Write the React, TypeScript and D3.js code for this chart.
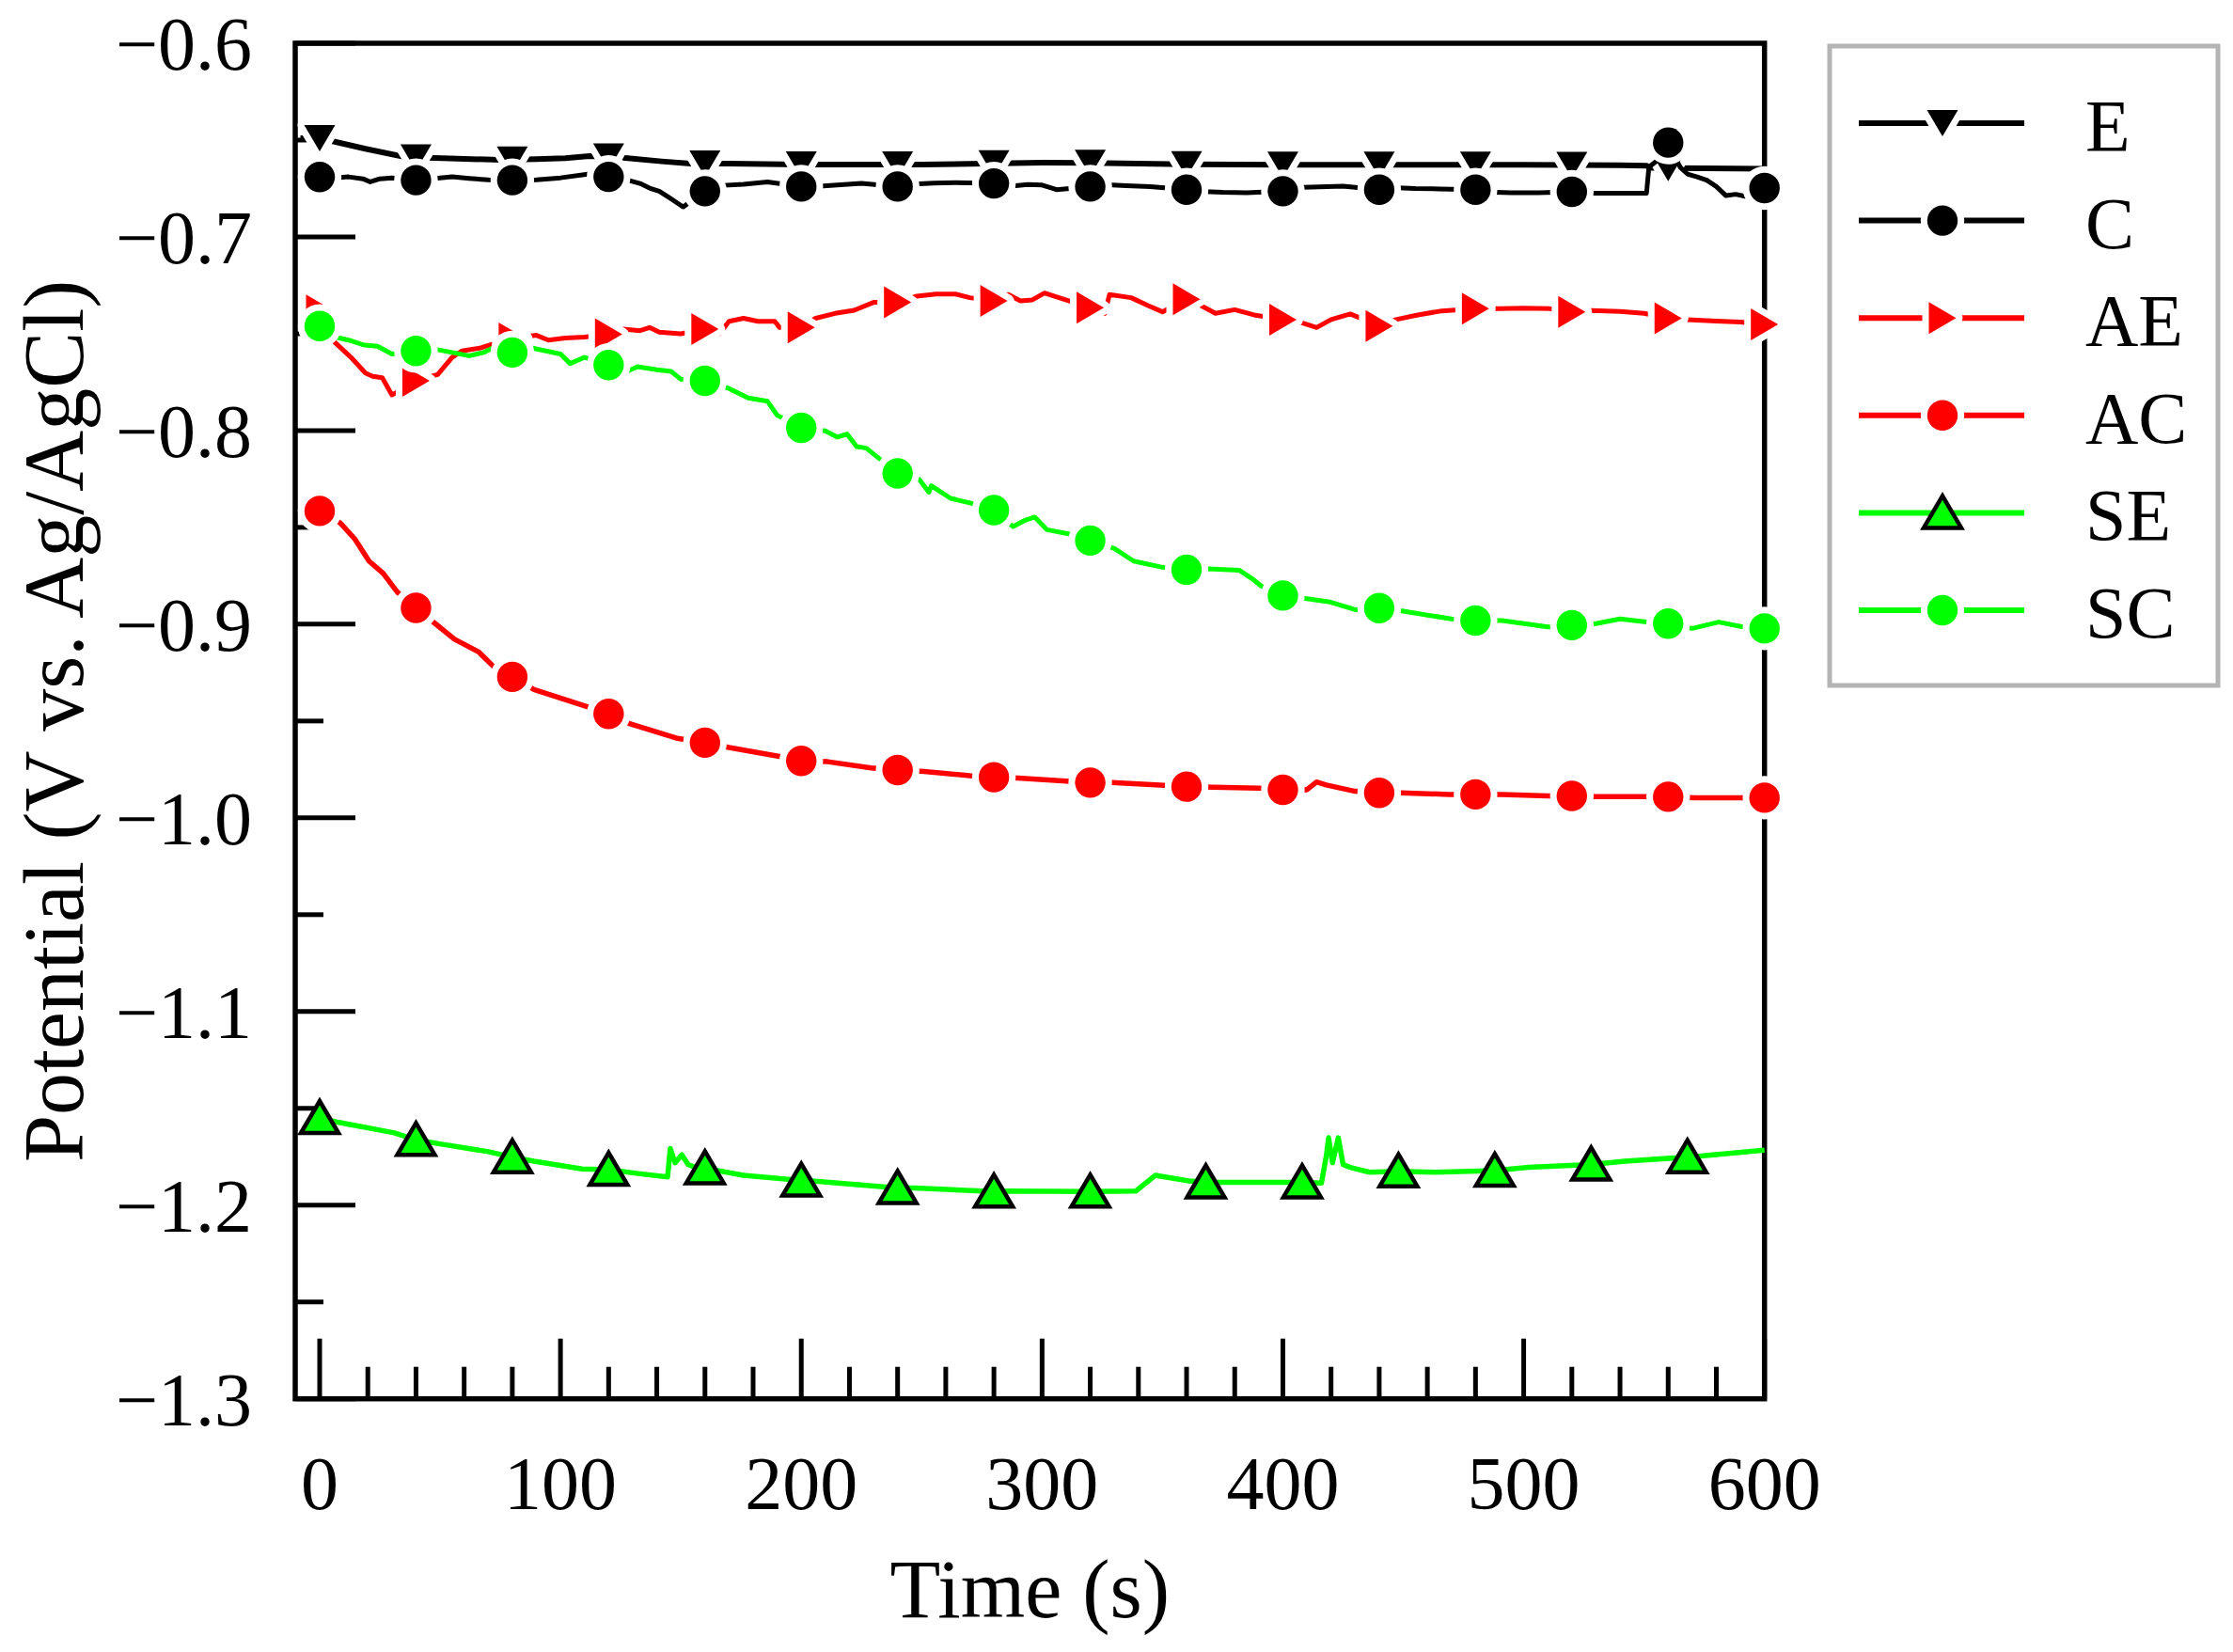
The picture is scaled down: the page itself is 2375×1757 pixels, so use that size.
import React from 'react';
import * as d3 from 'd3';

type Pt = [number, number];

// ---- data (time s, potential V) ----
const E_DATA: Pt[] = [
  [-8, -0.649], [0, -0.649], [5, -0.6505], [19, -0.6545], [35, -0.6586], [40, -0.659], [51, -0.6594],
  [75, -0.6602], [90, -0.6598], [102, -0.6594], [112, -0.6583], [120, -0.6585], [128, -0.6594],
  [142, -0.661], [154, -0.6621], [170, -0.6621], [200, -0.6626], [250, -0.6626], [300, -0.6617],
  [320, -0.6618], [360, -0.6625], [400, -0.6628], [450, -0.6628], [500, -0.6628], [540, -0.663],
  [551, -0.6632], [553, -0.6643], [575, -0.6646], [600, -0.6648],
];
const C_DATA: Pt[] = [
  [0, -0.6691], [6, -0.6695], [12, -0.669], [18, -0.67], [21, -0.6716], [25, -0.67], [30, -0.6695],
  [40, -0.6707], [46, -0.67], [55, -0.669], [62, -0.6698], [70, -0.6705], [80, -0.6707], [90, -0.6705],
  [100, -0.6695], [112, -0.6675], [120, -0.669], [128, -0.6707], [133, -0.6724], [137, -0.6748],
  [141, -0.6764], [145, -0.6796], [149, -0.6829], [151, -0.6845], [160, -0.6764], [166, -0.6735],
  [176, -0.6728], [186, -0.6716], [200, -0.674], [205, -0.674], [215, -0.6732], [225, -0.6724],
  [240, -0.674], [245, -0.6728], [255, -0.6722], [264, -0.672], [280, -0.6724], [285, -0.674],
  [294, -0.673], [300, -0.6732], [306, -0.6756], [320, -0.674], [325, -0.673], [335, -0.6735],
  [345, -0.674], [360, -0.6756], [365, -0.6765], [375, -0.677], [385, -0.6772], [400, -0.6764],
  [405, -0.6745], [415, -0.6742], [425, -0.6738], [440, -0.6756], [445, -0.6745], [455, -0.675],
  [465, -0.6752], [480, -0.6756], [485, -0.6768], [495, -0.6772], [506, -0.6772], [520, -0.6767],
  [525, -0.6775], [540, -0.6775], [551, -0.6775], [552, -0.664], [556, -0.66], [560, -0.6513],
  [563, -0.6594], [565, -0.664], [568, -0.6675], [572, -0.669], [576, -0.6707], [580, -0.674],
  [584, -0.6787], [588, -0.678], [592, -0.679], [600, -0.6748],
];
const AE_DATA: Pt[] = [
  [0, -0.738], [3, -0.745], [6, -0.7541], [13, -0.7622], [19, -0.7703], [22, -0.772], [26, -0.7727],
  [30, -0.7816], [34, -0.779], [40, -0.7743], [49, -0.7711], [55, -0.7622], [59, -0.7589], [67, -0.7573],
  [71, -0.7557], [80, -0.7525], [90, -0.7508], [95, -0.7533], [102, -0.7522], [110, -0.7517],
  [120, -0.7503], [126, -0.7476], [133, -0.7484], [137, -0.7468], [141, -0.7492], [150, -0.75],
  [160, -0.7476], [166, -0.75], [170, -0.7436], [176, -0.742], [182, -0.7436], [189, -0.7436],
  [191, -0.7468], [200, -0.7468], [206, -0.742], [214, -0.7395], [222, -0.7379], [230, -0.7338],
  [240, -0.7338], [248, -0.7306], [256, -0.7295], [264, -0.7295], [270, -0.7314], [280, -0.733],
  [286, -0.7298], [291, -0.733], [296, -0.7325], [301, -0.729], [311, -0.733], [320, -0.7366],
  [326, -0.7395], [328, -0.7298], [337, -0.7314], [344, -0.7355], [350, -0.7387], [360, -0.7322],
  [366, -0.7355], [372, -0.7395], [380, -0.7376], [388, -0.7403], [400, -0.7427], [408, -0.7444],
  [414, -0.7468], [420, -0.7427], [428, -0.7398], [440, -0.746], [447, -0.7427], [456, -0.7403],
  [466, -0.7382], [480, -0.7371], [490, -0.7371], [500, -0.7368], [511, -0.7371], [520, -0.7387],
  [528, -0.738], [540, -0.7385], [550, -0.7395], [560, -0.742], [568, -0.7427], [580, -0.7435],
  [590, -0.744], [600, -0.7452],
];
const AC_DATA: Pt[] = [
  [0, -0.8415], [4, -0.844], [8.7, -0.8479], [14.6, -0.856], [20.5, -0.8674], [26.4, -0.8738],
  [32.3, -0.8835], [40, -0.8916], [48, -0.8997], [56, -0.9078], [66, -0.9143], [72, -0.9216],
  [80, -0.9272], [89, -0.9337], [109, -0.9418], [120, -0.9463], [129, -0.9515], [148, -0.9588],
  [160, -0.9612], [170, -0.9637], [192, -0.9685], [200, -0.9706], [211, -0.971], [229, -0.9742],
  [240, -0.9753], [251, -0.9761], [270, -0.9782], [280, -0.979], [290, -0.9794], [310, -0.981],
  [320, -0.9818], [329, -0.9818], [349, -0.9831], [360, -0.9839], [371, -0.9842], [390, -0.9847],
  [400, -0.9855], [410, -0.9855], [414, -0.9815], [418, -0.983], [430, -0.9863], [440, -0.9871],
  [449, -0.9871], [469, -0.9879], [480, -0.9879], [491, -0.9879], [510, -0.9887], [520, -0.9887],
  [530, -0.989], [550, -0.989], [560, -0.9891], [571, -0.9896], [589, -0.9896], [600, -0.9896],
];
const SE_DATA: Pt[] = [
  [0, -1.155], [7, -1.157], [31, -1.1627], [40, -1.1663], [50, -1.1684], [70, -1.1724], [80, -1.1752],
  [89, -1.1773], [109, -1.1813], [120, -1.1817], [133, -1.1838], [144.5, -1.1854], [145.6, -1.1708],
  [147.6, -1.1781], [150.4, -1.174], [153, -1.179], [156, -1.1805], [160, -1.1809], [176, -1.1846],
  [200, -1.1873], [207, -1.1878], [240, -1.1911], [247, -1.1911], [280, -1.193], [286, -1.1927],
  [320, -1.193], [339, -1.1927], [347, -1.1846], [361, -1.1875], [368, -1.1882], [385, -1.1882],
  [408, -1.1882], [416, -1.1886], [418, -1.1749], [419, -1.1652], [420.6, -1.1781], [423, -1.1652],
  [425, -1.179], [428, -1.1805], [436, -1.183], [448, -1.1825], [463, -1.183], [488, -1.1822],
  [502, -1.1805], [528, -1.179], [542, -1.1773], [568, -1.1752], [600, -1.1716],
];
const SC_DATA: Pt[] = [
  [0, -0.746], [6, -0.7516], [12, -0.7533], [18, -0.7557], [24, -0.7565], [30, -0.7605], [40, -0.7589],
  [48, -0.758], [55, -0.7597], [62, -0.7614], [68, -0.7597], [72, -0.7573], [80, -0.7597], [88, -0.7573],
  [94, -0.7589], [100, -0.7605], [104, -0.7654], [110, -0.7622], [120, -0.7662], [126, -0.7703],
  [132, -0.767], [140, -0.7686], [146, -0.7695], [150, -0.7735], [160, -0.7743], [170, -0.7783],
  [178, -0.7832], [186, -0.7849], [190, -0.7921], [200, -0.7986], [210, -0.8002], [215, -0.8034],
  [219, -0.8018], [223, -0.8083], [227, -0.8091], [231, -0.8131], [240, -0.8221], [249, -0.8253],
  [253, -0.8318], [254, -0.8285], [262, -0.835], [270, -0.8374], [280, -0.8411], [288, -0.8496],
  [293, -0.8463], [297, -0.8447], [302, -0.8512], [312, -0.8536], [320, -0.8568], [330, -0.8609],
  [338, -0.8674], [350, -0.8706], [360, -0.8719], [369, -0.8714], [382, -0.8722], [387, -0.8763],
  [391, -0.8803], [400, -0.8852], [410, -0.8868], [419, -0.8884], [430, -0.8925], [440, -0.8917],
  [450, -0.8933], [470, -0.8973], [480, -0.8981], [491, -0.8981], [510, -0.9014], [520, -0.9005],
  [530, -0.8997], [540, -0.8973], [551, -0.8989], [560, -0.8997], [570, -0.9022], [581, -0.8989],
  [591, -0.9014], [600, -0.9022],
];

const MARK_T_ALL = [0, 40, 80, 120, 160, 200, 240, 280, 320, 360, 400, 440, 480, 520, 560, 600];
const E_MARK_T = [0, 40, 80, 120, 160, 200, 240, 280, 320, 360, 400, 440, 480, 520, 560];
const SE_MARK_T = [0, 40, 80, 120, 160, 200, 240, 280, 320, 368, 408, 448, 488, 528, 568];

const X_MAJOR = [0, 100, 200, 300, 400, 500, 600];
const X_MINOR = [20, 40, 60, 80, 120, 140, 160, 180, 220, 240, 260, 280, 320, 340, 360, 380, 420, 440, 460, 480, 520, 540, 560, 580];
const Y_MAJOR = [-0.6, -0.7, -0.8, -0.9, -1.0, -1.1, -1.2, -1.3];
const Y_LABELS = ['−0.6', '−0.7', '−0.8', '−0.9', '−1.0', '−1.1', '−1.2', '−1.3'];
const Y_MINOR = [-0.65, -0.75, -0.85, -0.95, -1.05, -1.15, -1.25];
const X_LABELS = ['0', '100', '200', '300', '400', '500', '600'];

const SERIES_NAMES = ['E', 'C', 'AE', 'AC', 'SE', 'SC'];

// ---- layout / style ----
const W = 2375;
const H = 1757;
const PLOT = { left: 314, right: 1876.7, top: 46, bottom: 1487.7 };
const RED = '#ff0000';
const GREEN = '#00ff00';
const FONT = '"Liberation Serif", "Times New Roman", serif';

const x = d3.scaleLinear().domain([-10.15, 600]).range([PLOT.left, PLOT.right]);
const y = d3.scaleLinear().domain([-0.6, -1.3]).range([PLOT.top, PLOT.bottom]);

const MARKERS: Record<string, string> = {
  down: 'M-16.5,-14L16.5,-14L0,14Z',
  right: 'M-14.5,-17L14.5,0L-14.5,17Z',
  up: 'M-20,16L20,16L0,-18Z',
  circle: d3.symbol(d3.symbolCircle, Math.PI * 16.2 * 16.2)() as string,
};

type Style = { color: string; width: number; marker: string; fill: string; outline: string | null; halo: boolean };
const STYLES: Style[] = [
  { color: '#000', width: 6, marker: 'down', fill: '#000', outline: null, halo: true },
  { color: '#000', width: 5, marker: 'circle', fill: '#000', outline: null, halo: true },
  { color: RED, width: 5, marker: 'right', fill: RED, outline: null, halo: true },
  { color: RED, width: 5.5, marker: 'circle', fill: RED, outline: null, halo: true },
  { color: GREEN, width: 5.5, marker: 'up', fill: GREEN, outline: '#000', halo: false },
  { color: GREEN, width: 5, marker: 'circle', fill: GREEN, outline: null, halo: true },
];
const DATA = [E_DATA, C_DATA, AE_DATA, AC_DATA, SE_DATA, SC_DATA];
const MARK_TIMES = [E_MARK_T, MARK_T_ALL, MARK_T_ALL, MARK_T_ALL, SE_MARK_T, MARK_T_ALL];

const bis = d3.bisector((d: Pt) => d[0]).left;
function valueAt(data: Pt[], t: number): number {
  const i = bis(data, t);
  if (i <= 0) return data[0][1];
  if (i >= data.length) return data[data.length - 1][1];
  const a = data[i - 1];
  const b = data[i];
  if (b[0] === t) return b[1];
  const f = (t - a[0]) / (b[0] - a[0]);
  return a[1] + f * (b[1] - a[1]);
}

const lineGen = d3
  .line<Pt>()
  .x((d) => x(d[0]))
  .y((d) => y(d[1]));

function Marker({ cx, cy, s }: { cx: number; cy: number; s: Style }) {
  const d = MARKERS[s.marker];
  return (
    <g transform={`translate(${cx},${cy})`}>
      {s.halo && <path d={d} fill="#fff" stroke="#fff" strokeWidth={14} strokeLinejoin="round" />}
      <path
        d={d}
        fill={s.fill}
        stroke={s.outline ?? 'none'}
        strokeWidth={s.outline ? 4.5 : 0}
        strokeLinejoin="miter"
      />
    </g>
  );
}

export default function App() {
  const legendX0 = 1977;
  const legendX1 = 2153;
  const legendMarkX = 2066;
  const legendRow0 = 131;
  const legendStep = 103.6;
  return (
    <div style={{ position: 'absolute', left: 0, top: 0 }}>
      <svg width={W} height={H} viewBox={`0 0 ${W} ${H}`} style={{ display: 'block', background: '#fff' }}>
        <rect x={0} y={0} width={W} height={H} fill="#fff" />
        {/* ticks */}
        <g stroke="#000" strokeWidth={5}>
          {X_MAJOR.map((t) => (
            <line key={`xm${t}`} x1={x(t)} x2={x(t)} y1={PLOT.bottom} y2={PLOT.bottom - 64} />
          ))}
          {X_MINOR.map((t) => (
            <line key={`xn${t}`} x1={x(t)} x2={x(t)} y1={PLOT.bottom} y2={PLOT.bottom - 34} />
          ))}
          {Y_MAJOR.map((v) => (
            <line key={`ym${v}`} x1={PLOT.left} x2={PLOT.left + 64} y1={y(v)} y2={y(v)} />
          ))}
          {Y_MINOR.map((v) => (
            <line key={`yn${v}`} x1={PLOT.left} x2={PLOT.left + 30} y1={y(v)} y2={y(v)} />
          ))}
        </g>
        {/* frame */}
        <rect
          x={PLOT.left}
          y={PLOT.top}
          width={PLOT.right - PLOT.left}
          height={PLOT.bottom - PLOT.top}
          fill="none"
          stroke="#000"
          strokeWidth={5.5}
        />
        {/* tick labels */}
        <g fontFamily={FONT} fontSize={80} fill="#000">
          {Y_MAJOR.map((v, i) => (
            <text key={`yl${v}`} x={268} y={y(v) + 28} textAnchor="end">
              {Y_LABELS[i]}
            </text>
          ))}
          {X_MAJOR.map((t, i) => (
            <text key={`xl${t}`} x={x(t)} y={1605} textAnchor="middle">
              {X_LABELS[i]}
            </text>
          ))}
        </g>
        <text x={(PLOT.left + PLOT.right) / 2} y={1720} textAnchor="middle" fontFamily={FONT} fontSize={88}>
          Time (s)
        </text>
        <text
          transform={`translate(88,${(PLOT.top + PLOT.bottom) / 2}) rotate(-90)`}
          textAnchor="middle"
          fontFamily={FONT}
          fontSize={90}
        >
          Potential (V vs. Ag/AgCl)
        </text>
        {/* series */}
        {DATA.map((data, si) => {
          const s = STYLES[si];
          return (
            <g key={SERIES_NAMES[si]}>
              <path
                d={lineGen(data) as string}
                fill="none"
                stroke={s.color}
                strokeWidth={s.width}
                strokeLinejoin="round"
                strokeLinecap="butt"
              />
              {MARK_TIMES[si].map((t) => (
                <Marker key={t} cx={x(t)} cy={y(valueAt(data, t))} s={s} />
              ))}
            </g>
          );
        })}
        {/* legend */}
        <rect x={1946} y={49} width={413} height={680} fill="#fff" stroke="#b4b4b4" strokeWidth={5} />
        {SERIES_NAMES.map((name, i) => {
          const s = STYLES[i];
          const ry = legendRow0 + i * legendStep;
          return (
            <g key={`lg${name}`}>
              <line x1={legendX0} x2={legendX1} y1={ry} y2={ry} stroke={s.color} strokeWidth={6} />
              <Marker cx={legendMarkX} cy={ry} s={s} />
              <text x={2218} y={ry + 29} fontFamily={FONT} fontSize={78}>
                {name}
              </text>
            </g>
          );
        })}
      </svg>
    </div>
  );
}
